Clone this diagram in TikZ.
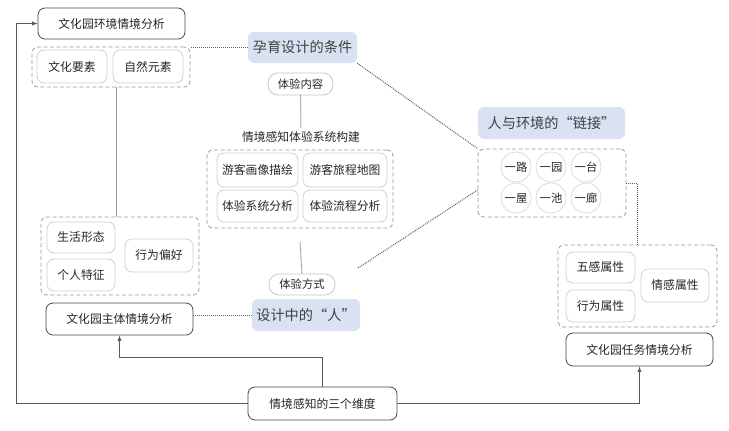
\documentclass[tikz,border=0pt]{standalone}
\usepackage{fontspec}
\setmainfont{Noto Sans CJK SC}
\usepackage{tikz}
\usetikzlibrary{positioning, calc, arrows}
\definecolor{headblue}{HTML}{D9E1F2}
\definecolor{wire}{HTML}{5A5A5A}
\tikzstyle{mainbox} = [draw=black!72, rounded corners=7pt, line width=0.8pt, fill=white, text=black!85, font=\fontsize{11.8}{12}\selectfont, inner sep=0pt]
\tikzstyle{subbox} = [draw=black!18, rounded corners=7pt, line width=0.8pt, fill=white, text=black!85, font=\fontsize{11.8}{12}\selectfont, inner sep=0pt]
\tikzstyle{group} = [draw=black!40, dash pattern=on 4pt off 2.5pt, rounded corners=6pt, line width=0.8pt, inner sep=0pt]
\tikzstyle{head} = [fill=headblue, rounded corners=6pt, text=black!75, font=\fontsize{14.2}{15}\selectfont, inner sep=0pt]
\tikzstyle{pill} = [draw=black!22, rounded corners=10pt, line width=0.8pt, fill=white, text=black!85, font=\fontsize{11.3}{12}\selectfont, inner sep=0pt]
\tikzstyle{spot} = [circle, draw=black!14, line width=0.8pt, fill=white, minimum size=30pt, inner sep=0pt, text=black!85, font=\fontsize{11.3}{12}\selectfont]
\tikzstyle{arrow} = [wire, line width=0.9pt, ->, >=latex]
\tikzstyle{link} = [black!40, line width=0.9pt]
\tikzstyle{dotline} = [densely dotted, black!62, line width=1pt]
\tikzset{wh/.style 2 args={minimum width=#1pt, minimum height=#2pt}}

\begin{document}
\begin{tikzpicture}[x=1pt, y=-1pt]
    \useasboundingbox (0,0) rectangle (729,431);

    \node[group, wh={158}{40}] (envgrp) at (111,67) {};
    \node[group, wh={186}{78}] (sysgrp) at (300,189) {};
    \node[group, wh={148}{68}] (linkgrp) at (552,183) {};
    \node[group, wh={158}{78}] (subjgrp) at (120,256) {};
    \node[group, wh={159}{82}] (taskgrp) at (637.5,286) {};

    \node[mainbox, wh={147}{31}] (env) at (111.5,23.5) {文化园环境情境分析};
    \node[subbox, wh={70}{33}] (culture) at (72,66.5) {文化要素};
    \node[subbox, wh={70}{33}] (nature) at (148,66.5) {自然元素};

    \node[head, wh={109}{31}] (cond) at (302.5,47.5) {孕育设计的条件};
    \node[pill, wh={65}{22}] (content) at (300.5,84) {体验内容};
    \node[text=black!85, font=\fontsize{11.8}{12}\selectfont] (systitle) at (301,137) {情境感知体验系统构建};
    \node[subbox, wh={81}{34}] (portrait) at (257.5,170) {游客画像描绘};
    \node[subbox, wh={84}{34}] (journey) at (345,170) {游客旅程地图};
    \node[subbox, wh={81}{32}] (sysana) at (257.5,206) {体验系统分析};
    \node[subbox, wh={84}{32}] (flowana) at (345,206) {体验流程分析};

    \node[head, wh={147}{32}] (link) at (551.5,123) {人与环境的“链接”};
    \node[spot] (s1) at (516,167) {一路};
    \node[spot] (s2) at (551,167) {一园};
    \node[spot] (s3) at (586,167) {一台};
    \node[spot] (s4) at (516,198) {一屋};
    \node[spot] (s5) at (551,198) {一池};
    \node[spot] (s6) at (586,198) {一廊};

    \node[subbox, wh={68}{31}] (life) at (81,237.5) {生活形态};
    \node[subbox, wh={68}{32}] (trait) at (81,275) {个人特征};
    \node[subbox, wh={68}{33}] (prefer) at (159,255.5) {行为偏好};
    \node[mainbox, wh={147}{32}] (subj) at (119.5,319) {文化园主体情境分析};

    \node[pill, wh={66}{21}] (mode) at (302,284.5) {体验方式};
    \node[head, wh={108}{32}] (person) at (306,315) {设计中的“人”};

    \node[subbox, wh={69}{31}] (senses) at (600.5,267.5) {五感属性};
    \node[subbox, wh={69}{32}] (action) at (600.5,306) {行为属性};
    \node[subbox, wh={68}{33}] (emotion) at (675,285.5) {情感属性};
    \node[mainbox, wh={147}{33}] (task) at (639.5,349.5) {文化园任务情境分析};

    \node[mainbox, wh={149}{33}] (dims) at (322.5,403.5) {情境感知的三个维度};

    \coordinate (trunk) at (116,0);
    \coordinate (mlink) at (358,268);
    \draw[link] (envgrp.south -| trunk) -- (subjgrp.north -| trunk);

    \draw[dotline] (cond.west) -- (cond.west -| envgrp.east);
    \draw[dotline] (content.south) -- (systitle.north);
    \draw[dotline] (cond.south east) -- (linkgrp.north west);
    \draw[dotline] ([yshift=-14pt]sysgrp.south) -- (mode.north);
    \draw[dotline] (mlink) -- ([yshift=-7pt]linkgrp.west);
    \draw[dotline] (person.west) -- (person.west -| subj.east);
    \draw[dotline] (linkgrp.east) -| (taskgrp.north);

    \draw[arrow] (dims.west) -| (16,23.5) -- (env.west);
    \draw[arrow] (dims.north) |- (119.5,357) -- (subj.south);
    \draw[arrow] (dims.east) -| (task.south);
\end{tikzpicture}
\end{document}
